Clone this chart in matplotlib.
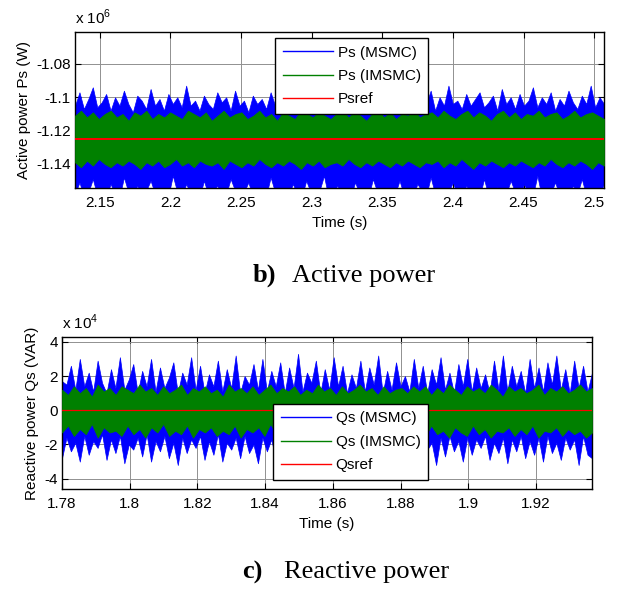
import numpy as np
import matplotlib
matplotlib.use("Agg")
import matplotlib.pyplot as plt
from matplotlib.lines import Line2D
from matplotlib.ticker import FuncFormatter

plt.rcParams["font.family"] = ["Liberation Sans", "DejaVu Sans"]
plt.rcParams["axes.unicode_minus"] = False
plt.rcParams["mathtext.fontset"] = "custom"
plt.rcParams["mathtext.rm"] = "Liberation Sans"

# --- b) active power, values in units of 1e6 W ---
p_xlim = (2.1325, 2.507)
p_ylim = (-1.1544, -1.0608)
p_xticks = [2.15, 2.2, 2.25, 2.3, 2.35, 2.4, 2.45, 2.5]
p_yticks = [-1.14, -1.12, -1.1, -1.08]
psref = -1.125

# upper / lower envelope of the noisy signals
ps_msmc_hi = [-1.105, -1.097, -1.107, -1.101, -1.094, -1.106, -1.103, -1.098, -1.108, -1.100,
              -1.105, -1.096, -1.104, -1.109, -1.099, -1.102, -1.107, -1.095, -1.105, -1.101,
              -1.108, -1.098, -1.104, -1.100, -1.106, -1.093, -1.105, -1.102, -1.108, -1.099,
              -1.104, -1.107, -1.097, -1.103, -1.100, -1.108, -1.096, -1.105, -1.102, -1.109,
              -1.099, -1.104, -1.101, -1.107, -1.097, -1.105, -1.103, -1.100, -1.108, -1.098,
              -1.106, -1.095, -1.104, -1.101, -1.109, -1.099, -1.105, -1.097, -1.103, -1.107,
              -1.100, -1.105, -1.096, -1.108, -1.102, -1.099, -1.106, -1.101, -1.104, -1.094,
              -1.107, -1.100, -1.105, -1.098, -1.108, -1.103, -1.097, -1.106, -1.101, -1.104,
              -1.096, -1.108, -1.100, -1.105, -1.093, -1.104, -1.102, -1.107, -1.098, -1.105,
              -1.101, -1.097, -1.106, -1.103, -1.099, -1.108, -1.095, -1.104, -1.100, -1.107,
              -1.098, -1.105, -1.102, -1.094, -1.106, -1.100, -1.104, -1.097, -1.108, -1.101,
              -1.105, -1.096, -1.103, -1.107, -1.099, -1.104, -1.093, -1.106, -1.100, -1.104]
ps_msmc_lo = [-1.158, -1.151, -1.160, -1.157, -1.149, -1.159, -1.156, -1.160, -1.152, -1.158,
              -1.160, -1.148, -1.157, -1.159, -1.153, -1.160, -1.156, -1.150, -1.158, -1.160,
              -1.155, -1.159, -1.147, -1.157, -1.160, -1.152, -1.158, -1.156, -1.160, -1.150,
              -1.159, -1.157, -1.153, -1.160, -1.158, -1.149, -1.156, -1.160, -1.157, -1.151,
              -1.160, -1.158, -1.154, -1.159, -1.148, -1.157, -1.160, -1.155, -1.159, -1.152,
              -1.158, -1.160, -1.150, -1.157, -1.159, -1.156, -1.147, -1.160, -1.158, -1.153,
              -1.159, -1.157, -1.160, -1.151, -1.158, -1.156, -1.160, -1.149, -1.157, -1.159,
              -1.154, -1.160, -1.158, -1.150, -1.159, -1.157, -1.160, -1.152, -1.156, -1.159,
              -1.148, -1.158, -1.160, -1.155, -1.157, -1.151, -1.159, -1.160, -1.153, -1.158,
              -1.156, -1.160, -1.149, -1.159, -1.157, -1.154, -1.160, -1.158, -1.150, -1.157,
              -1.160, -1.152, -1.158, -1.159, -1.147, -1.160, -1.156, -1.158, -1.151, -1.159,
              -1.157, -1.160, -1.153, -1.158, -1.149, -1.159, -1.160, -1.155, -1.158, -1.152]
ps_imsmc_hi = [-1.111, -1.108, -1.112, -1.109, -1.113, -1.110, -1.108, -1.112, -1.110, -1.114,
               -1.109, -1.111, -1.108, -1.113, -1.110, -1.112, -1.109, -1.111, -1.113, -1.108,
               -1.110, -1.112, -1.109, -1.114, -1.111, -1.108, -1.112, -1.110, -1.109, -1.113,
               -1.111, -1.108, -1.112, -1.110, -1.114, -1.109, -1.111, -1.113, -1.108, -1.110,
               -1.112, -1.109, -1.111, -1.113, -1.110, -1.108, -1.112, -1.109, -1.111, -1.114,
               -1.110, -1.108, -1.112, -1.109, -1.113, -1.110, -1.111, -1.108, -1.112, -1.110,
               -1.109, -1.112, -1.108, -1.111, -1.113, -1.110, -1.108, -1.112, -1.109, -1.111,
               -1.114, -1.110, -1.108, -1.112, -1.109, -1.113, -1.110, -1.111, -1.108, -1.112,
               -1.110, -1.109, -1.113, -1.111, -1.108, -1.112, -1.110, -1.109, -1.111, -1.113]
ps_imsmc_lo = [-1.139, -1.142, -1.138, -1.141, -1.137, -1.140, -1.142, -1.139, -1.141, -1.138,
               -1.140, -1.143, -1.139, -1.141, -1.138, -1.142, -1.140, -1.137, -1.141, -1.139,
               -1.142, -1.138, -1.140, -1.141, -1.139, -1.143, -1.138, -1.140, -1.142, -1.139,
               -1.141, -1.137, -1.140, -1.142, -1.139, -1.141, -1.138, -1.140, -1.143, -1.139,
               -1.141, -1.138, -1.142, -1.140, -1.139, -1.141, -1.137, -1.140, -1.142, -1.139,
               -1.141, -1.138, -1.140, -1.142, -1.139, -1.141, -1.138, -1.140, -1.142, -1.139,
               -1.140, -1.138, -1.142, -1.139, -1.141, -1.137, -1.140, -1.143, -1.139, -1.141,
               -1.138, -1.140, -1.142, -1.139, -1.141, -1.138, -1.140, -1.142, -1.139, -1.141,
               -1.137, -1.140, -1.142, -1.139, -1.141, -1.138, -1.140, -1.143, -1.139, -1.141]

# --- c) reactive power, values in units of 1e4 VAR ---
q_xlim = (1.78, 1.9365)
q_ylim = (-4.6, 4.28)
q_xticks = [1.78, 1.8, 1.82, 1.84, 1.86, 1.88, 1.9, 1.92]
q_yticks = [-4, -2, 0, 2, 4]
qsref = 0.0

qs_msmc_hi = [1.7, 1.5, 2.6, 1.2, 3.0, 1.4, 2.2, 1.1, 2.9, 1.6,
              1.0, 2.4, 1.3, 3.1, 1.2, 1.8, 2.7, 1.0, 2.3, 1.4,
              3.0, 1.1, 2.5, 1.3, 1.9, 2.8, 1.0, 2.2, 1.5, 3.1,
              1.2, 2.6, 1.0, 2.1, 1.4, 2.9, 1.1, 2.4, 1.3, 3.2,
              1.0, 2.0, 1.5, 2.7, 1.2, 3.0, 1.1, 2.3, 1.4, 2.8,
              1.0, 2.5, 1.3, 3.3, 1.1, 2.2, 1.6, 2.9, 1.0, 2.4,
              1.2, 3.1, 1.4, 2.6, 1.0, 2.1, 1.3, 2.9, 1.1, 2.5,
              1.5, 3.2, 1.0, 2.3, 1.2, 2.8, 1.4, 2.0, 1.1, 3.0,
              1.3, 2.6, 1.0, 2.4, 1.5, 3.1, 1.2, 2.2, 1.0, 2.7,
              1.4, 3.0, 1.1, 2.5, 1.3, 2.1, 1.0, 2.9, 1.2, 3.2,
              1.1, 2.6, 1.4, 2.3, 1.0, 3.0, 1.3, 2.5, 1.1, 2.8,
              1.5, 3.2, 1.2, 2.4, 1.0, 2.9, 1.3, 2.6, 1.1, 2.2]
qs_msmc_lo = [-2.8, -1.6, -2.4, -1.9, -3.0, -1.5, -2.6, -1.8, -2.2, -1.4,
              -2.9, -1.7, -2.5, -1.5, -3.1, -2.0, -2.3, -1.6, -2.7, -1.4,
              -3.0, -1.8, -2.4, -1.5, -2.8, -1.9, -3.2, -1.6, -2.5, -1.7,
              -2.2, -1.5, -2.9, -1.8, -2.6, -1.4, -3.0, -1.9, -2.3, -1.6,
              -2.8, -1.5, -2.5, -2.0, -3.1, -1.6, -2.4, -1.7, -2.9, -1.5,
              -2.6, -1.8, -3.2, -1.5, -2.3, -1.9, -2.8, -1.6, -2.5, -1.4,
              -3.0, -1.7, -2.4, -1.5, -2.9, -1.8, -2.2, -1.6, -3.1, -1.5,
              -2.6, -1.9, -2.8, -1.4, -2.4, -1.7, -3.0, -1.6, -2.5, -1.8,
              -2.9, -1.5, -2.3, -1.9, -3.2, -1.6, -2.7, -1.5, -2.4, -1.8,
              -3.0, -1.6, -2.6, -1.7, -2.2, -1.5, -2.9, -1.9, -2.5, -1.6,
              -3.1, -1.7, -2.4, -1.5, -2.8, -1.8, -2.6, -1.6, -3.0, -1.5,
              -2.5, -1.9, -2.9, -1.6, -2.3, -1.7, -3.2, -1.5, -2.6, -2.8]
qs_imsmc_hi = [1.2, 0.9, 1.4, 1.0, 1.3, 0.8, 1.5, 1.1, 1.3, 0.9, 1.4, 1.2, 1.0, 1.5, 1.1,
               1.3, 0.9, 1.4, 1.0, 1.2, 1.5, 0.9, 1.3, 1.1, 1.4, 1.0, 1.2, 0.8, 1.5, 1.1,
               1.3, 1.0, 1.4, 0.9, 1.2, 1.5, 1.0, 1.3, 1.1, 1.4, 0.9, 1.2, 1.0, 1.5, 1.1,
               1.3, 0.9, 1.4, 1.0, 1.2, 1.5, 1.1, 1.3, 0.9, 1.4, 1.0, 1.2, 1.3, 1.0, 1.4,
               1.1, 1.4, 0.9, 1.3, 1.0, 1.5, 1.2, 0.9, 1.4, 1.1, 1.3, 1.0, 1.5, 1.2, 0.8,
               1.4, 1.1, 1.3, 1.0, 1.2, 1.5, 0.9, 1.3, 1.1, 1.4, 1.0, 1.2, 1.5, 1.1, 1.3]
qs_imsmc_lo = [-1.3, -0.9, -1.5, -1.1, -1.4, -0.8, -1.6, -1.0, -1.3, -1.2, -1.5, -0.9, -1.4, -1.1, -1.6,
               -1.0, -1.3, -0.8, -1.5, -1.2, -1.4, -0.9, -1.6, -1.1, -1.3, -1.0, -1.5, -1.2, -1.4, -0.9,
               -1.6, -1.1, -1.3, -1.0, -1.5, -0.8, -1.4, -1.2, -1.6, -1.0, -1.3, -1.1, -1.5, -0.9, -1.4,
               -1.2, -1.6, -1.0, -1.3, -1.1, -1.5, -0.9, -1.4, -1.2, -1.3, -1.0, -1.5, -1.1, -1.4, -1.2,
               -1.1, -1.5, -0.9, -1.4, -1.2, -1.6, -1.0, -1.3, -1.5, -0.9, -1.4, -1.1, -1.6, -1.2, -1.3,
               -1.0, -1.5, -1.1, -1.4, -0.9, -1.6, -1.2, -1.3, -1.0, -1.5, -1.1, -1.4, -1.2, -1.6, -1.3]

BLUE = "#0000ff"
GREEN = "#008000"
RED = "#ff0000"
fmt_g = FuncFormatter(lambda v, pos: "%g" % round(v, 6))


def draw_panel(ax, xlim, ylim, msmc, imsmc, ref, ref_lw):
    t_b = np.linspace(xlim[0], xlim[1], len(msmc[0]))
    t_g = np.linspace(xlim[0], xlim[1], len(imsmc[0]))
    ax.fill_between(t_b, msmc[1], msmc[0], color=BLUE, lw=0.5, zorder=2)
    ax.fill_between(t_g, imsmc[1], imsmc[0], color=GREEN, lw=0.5, zorder=3)
    ax.axhline(ref, color=RED, lw=ref_lw, zorder=4)
    ax.set_xlim(*xlim)
    ax.set_ylim(*ylim)
    ax.set_axisbelow(True)
    ax.grid(True, color="#909090", lw=0.7)
    ax.tick_params(direction="in", top=True, right=True, length=4, labelsize=11)
    ax.tick_params(axis="x", pad=6)
    ax.tick_params(axis="y", pad=3)
    ax.xaxis.set_major_formatter(fmt_g)
    ax.yaxis.set_major_formatter(fmt_g)
    for s in ax.spines.values():
        s.set_linewidth(1.0)


def add_legend(ax, labels, loc, anchor):
    handles = [Line2D([], [], color=c, lw=1) for c in (BLUE, GREEN, RED)]
    leg = ax.legend(handles, labels, loc=loc, bbox_to_anchor=anchor, borderaxespad=0,
                    fontsize=11, handlelength=3.3, handletextpad=0.3, labelspacing=0.62,
                    borderpad=0.5, fancybox=False, framealpha=1, edgecolor="black")
    leg.get_frame().set_linewidth(1.0)
    leg.set_zorder(10)


fig = plt.figure(figsize=(6.18, 5.90), dpi=100)

ax1 = fig.add_axes([0.1214, 0.6814, 0.856, 0.2644])
draw_panel(ax1, p_xlim, p_ylim, (ps_msmc_hi, ps_msmc_lo), (ps_imsmc_hi, ps_imsmc_lo), psref, 1.4)
ax1.set_xticks(p_xticks)
ax1.set_yticks(p_yticks)
ax1.set_xlabel("Time (s)", fontsize=11, labelpad=4)
ax1.set_ylabel("Active power Ps (W)", fontsize=11, labelpad=4)
ax1.text(0, 1.03, r"x 10$^{6}$", transform=ax1.transAxes, fontsize=11, ha="left", va="bottom")
add_legend(ax1, ["Ps (MSMC)", "Ps (IMSMC)", "Psref"], "upper left", (0.378, 0.962))

ax2 = fig.add_axes([0.1003, 0.1712, 0.8576, 0.2576])
draw_panel(ax2, q_xlim, q_ylim, (qs_msmc_hi, qs_msmc_lo), (qs_imsmc_hi, qs_imsmc_lo), qsref, 0.9)
ax2.set_xticks(q_xticks)
ax2.set_yticks(q_yticks)
ax2.set_xlabel("Time (s)", fontsize=11, labelpad=4)
ax2.set_ylabel("Reactive power Qs (VAR)", fontsize=11, labelpad=4)
ax2.text(0, 1.03, r"x 10$^{4}$", transform=ax2.transAxes, fontsize=11, ha="left", va="bottom")
add_legend(ax2, ["Qs (MSMC)", "Qs (IMSMC)", "Qsref"], "lower left", (0.398, 0.059))

serif = ["Liberation Serif", "DejaVu Serif"]
fig.text(0.408, 0.533, "b)", family=serif, fontsize=19, fontweight="bold", ha="left", va="center")
fig.text(0.4725, 0.533, "Active power", family=serif, fontsize=19, ha="left", va="center")
fig.text(0.3916, 0.030, "c)", family=serif, fontsize=19, fontweight="bold", ha="left", va="center")
fig.text(0.4595, 0.030, "Reactive power", family=serif, fontsize=19, ha="left", va="center")

fig.savefig("out.png", dpi=100)
